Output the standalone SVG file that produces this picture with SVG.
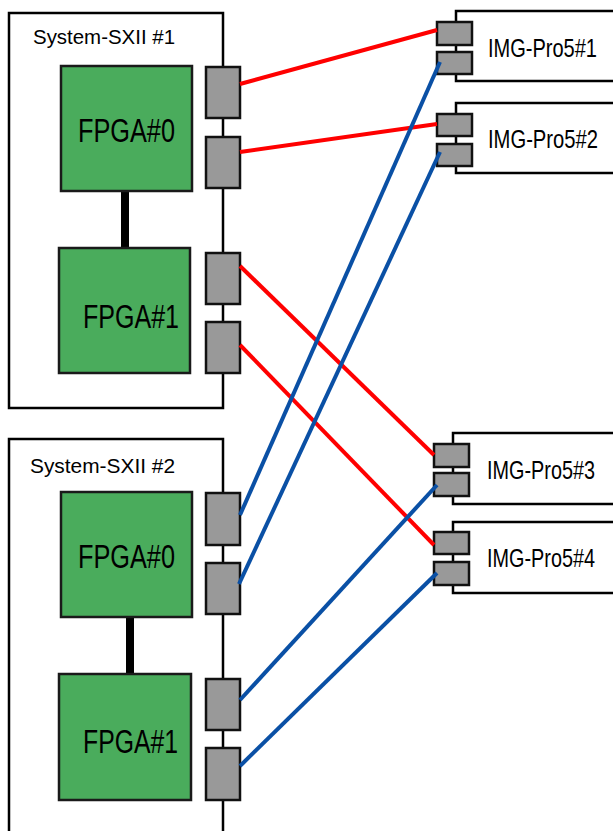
<svg xmlns="http://www.w3.org/2000/svg" width="613" height="831" viewBox="0 0 613 831">
<style>
.sys{fill:#fff;stroke:#000;stroke-width:2.5}
.fpga{fill:#4aac5c;stroke:#1a1a1a;stroke-width:2.5}
.port{fill:#999;stroke:#111;stroke-width:2.5}
.img{fill:#fff;stroke:#000;stroke-width:2.5}
.bus{stroke:#000;stroke-width:8}
.red{stroke:#ff0000;stroke-width:4;fill:none}
.blue{stroke:#0a50a5;stroke-width:4;fill:none}
text{font-family:"Liberation Sans","DejaVu Sans",sans-serif;fill:#000}
.t{font-size:20px}
.f{font-size:34px}
.i{font-size:21px}
</style>
<g id="system1">
<rect class="sys" x="9" y="13" width="214" height="395"/>
<text class="t" x="33" y="44" textLength="142" lengthAdjust="spacingAndGlyphs">System-SXII #1</text>
<line class="bus" x1="125" y1="191" x2="125" y2="248"/>
<g id="s1fpga0"><rect class="fpga" x="61" y="66" width="131" height="125"/>
<text class="f" x="78" y="142" textLength="97" lengthAdjust="spacingAndGlyphs">FPGA#0</text></g>
<g id="s1fpga1"><rect class="fpga" x="59" y="248" width="131" height="125"/>
<text class="f" x="83" y="328" textLength="96" lengthAdjust="spacingAndGlyphs">FPGA#1</text></g>
<rect class="port" x="206" y="67" width="34" height="51"/>
<rect class="port" x="206" y="137" width="34" height="51"/>
<rect class="port" x="206" y="253" width="34" height="51"/>
<rect class="port" x="206" y="322" width="34" height="51"/>
</g>
<g id="system2">
<path class="sys" d="M9 831 V439 H223 V831"/>
<text class="t" x="30" y="473" textLength="145" lengthAdjust="spacingAndGlyphs">System-SXII #2</text>
<line class="bus" x1="130" y1="617" x2="130" y2="674"/>
<g id="s2fpga0"><rect class="fpga" x="61" y="492" width="131" height="125"/>
<text class="f" x="78" y="568" textLength="97" lengthAdjust="spacingAndGlyphs">FPGA#0</text></g>
<g id="s2fpga1"><rect class="fpga" x="59" y="674" width="132" height="126"/>
<text class="f" x="83" y="753" textLength="95" lengthAdjust="spacingAndGlyphs">FPGA#1</text></g>
<rect class="port" x="206" y="493" width="34" height="52"/>
<rect class="port" x="206" y="563" width="34" height="51"/>
<rect class="port" x="206" y="679" width="34" height="51"/>
<rect class="port" x="206" y="748" width="34" height="52"/>
</g>
<g id="img1">
<path class="img" d="M613 11 H456 V81 H613"/>
<rect class="port" x="437" y="22" width="35" height="23"/>
<rect class="port" x="437" y="52" width="35" height="22"/>
<text class="i" transform="translate(488,57) scale(1,1.22)" x="0" y="0" textLength="109" lengthAdjust="spacingAndGlyphs">IMG-Pro5#1</text>
</g>
<g id="img2">
<path class="img" d="M613 103 H456 V173 H613"/>
<rect class="port" x="437" y="114" width="35" height="22"/>
<rect class="port" x="437" y="144" width="35" height="22"/>
<text class="i" transform="translate(488,148) scale(1,1.22)" x="0" y="0" textLength="110" lengthAdjust="spacingAndGlyphs">IMG-Pro5#2</text>
</g>
<g id="img3">
<path class="img" d="M613 433 H453 V504 H613"/>
<rect class="port" x="434" y="444" width="35" height="23"/>
<rect class="port" x="434" y="473" width="35" height="23"/>
<text class="i" transform="translate(487,479) scale(1,1.22)" x="0" y="0" textLength="108" lengthAdjust="spacingAndGlyphs">IMG-Pro5#3</text>
</g>
<g id="img4">
<path class="img" d="M613 522 H453 V593 H613"/>
<rect class="port" x="434" y="532" width="35" height="22"/>
<rect class="port" x="434" y="562" width="35" height="23"/>
<text class="i" transform="translate(487,567) scale(1,1.22)" x="0" y="0" textLength="108" lengthAdjust="spacingAndGlyphs">IMG-Pro5#4</text>
</g>
<g id="connectors">
<line class="red" x1="240" y1="84" x2="437" y2="30"/>
<line class="red" x1="240" y1="152" x2="437" y2="124"/>
<line class="red" x1="240" y1="266" x2="434" y2="455"/>
<line class="red" x1="240" y1="345" x2="434" y2="545"/>
<line class="blue" x1="240" y1="515" x2="440" y2="62"/>
<line class="blue" x1="239" y1="584" x2="440" y2="152"/>
<line class="blue" x1="240" y1="700" x2="437" y2="485"/>
<line class="blue" x1="240" y1="766" x2="437" y2="573"/>
</g>
</svg>
